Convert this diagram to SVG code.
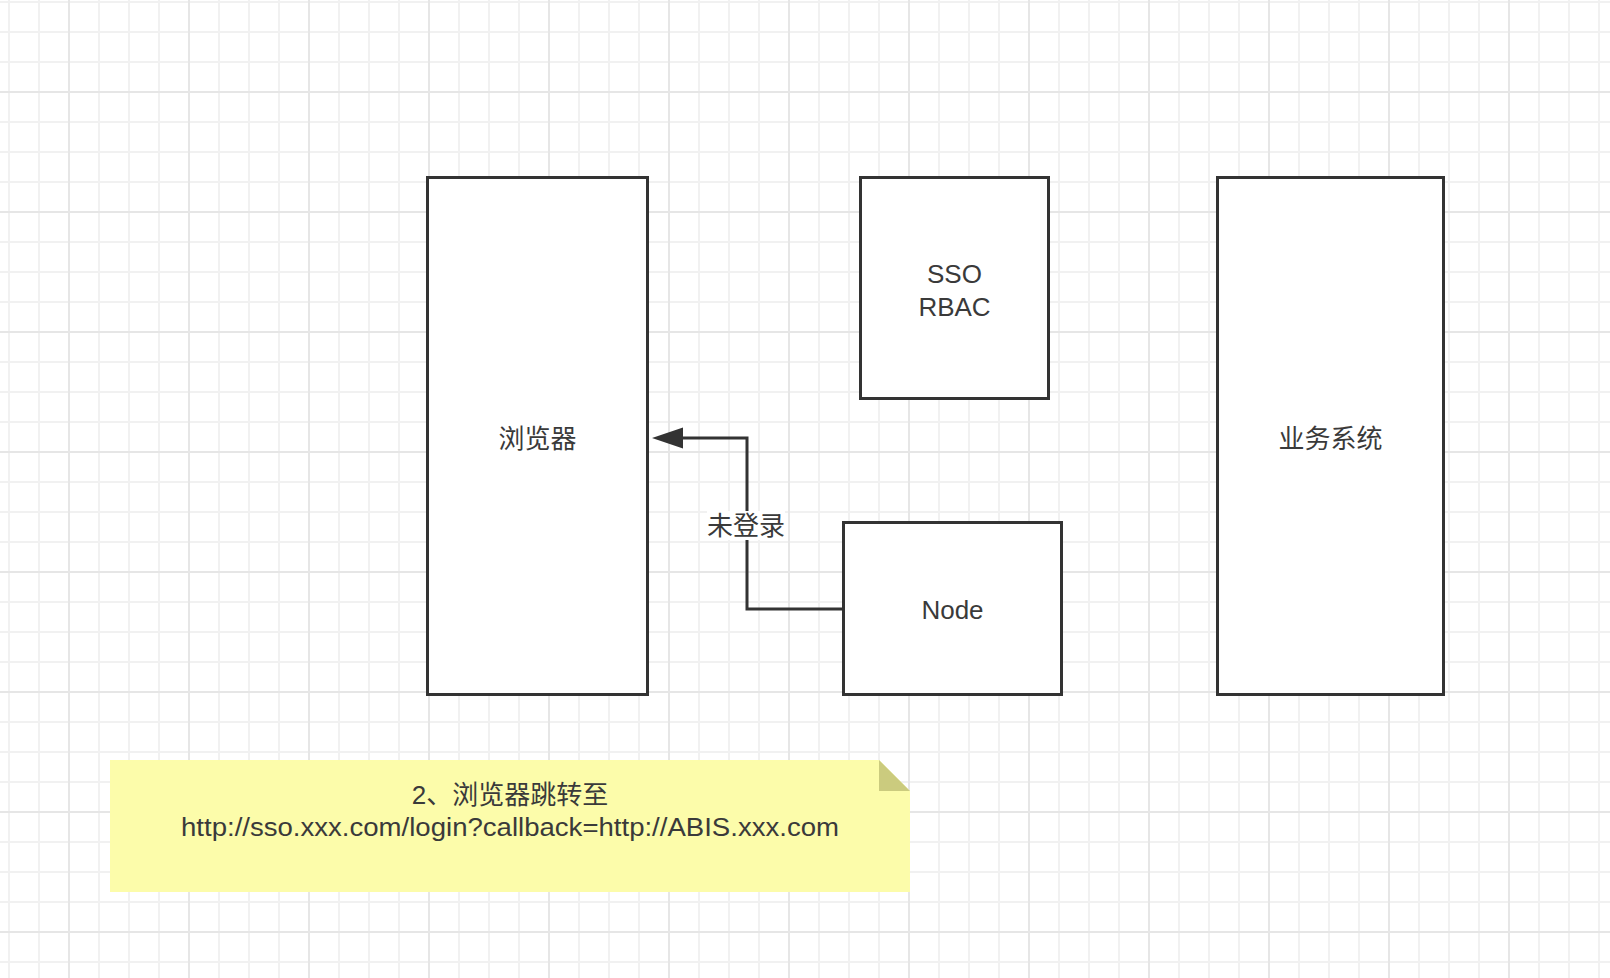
<svg xmlns="http://www.w3.org/2000/svg" width="1610" height="978" viewBox="0 0 1610 978">
<style>
.box{fill:#ffffff;stroke:#333333;stroke-width:3}
.lbl{font-family:"Liberation Sans","Noto Sans CJK SC",sans-serif;font-size:26px;fill:#3a3a3a;text-anchor:middle}
.edge{fill:none;stroke:#333333;stroke-width:3}
</style>
<defs>
<pattern id="grid" x="8" y="1" width="120" height="120" patternUnits="userSpaceOnUse">
<rect width="120" height="120" fill="#ffffff"/>
<g fill="#f1f1f1">
<rect x="0" y="0" width="2" height="120"/><rect x="30" y="0" width="2" height="120"/><rect x="60" y="0" width="2" height="120"/><rect x="90" y="0" width="2" height="120"/>
<rect x="0" y="0" width="120" height="2"/><rect x="0" y="30" width="120" height="2"/><rect x="0" y="60" width="120" height="2"/><rect x="0" y="90" width="120" height="2"/>
</g>
<g fill="#e6e6e6">
<rect x="60" y="0" width="2" height="120"/>
<rect x="0" y="90" width="120" height="2"/>
</g>
</pattern>
</defs>
<rect width="1610" height="978" fill="url(#grid)"/>

<g id="connectors">
<path class="edge" d="M843 609 H747 V438 H680"/>
<polygon points="652,438 683,427.5 683,448.5" fill="#333333"/>
<rect x="707" y="511" width="78" height="29" fill="#ffffff"/>
<text class="lbl" x="746" y="535">未登录</text>
</g>

<g id="browser">
<rect class="box" x="427.5" y="177.5" width="220" height="517"/>
<text class="lbl" x="537.5" y="448">浏览器</text>
</g>

<g id="sso">
<rect class="box" x="860.5" y="177.5" width="188" height="221"/>
<text class="lbl" x="954.5" y="283">SSO</text>
<text class="lbl" x="954.5" y="316">RBAC</text>
</g>

<g id="node">
<rect class="box" x="843.5" y="522.5" width="218" height="172"/>
<text class="lbl" x="952.5" y="619">Node</text>
</g>

<g id="business">
<rect class="box" x="1217.5" y="177.5" width="226" height="517"/>
<text class="lbl" x="1330.5" y="448">业务系统</text>
</g>

<g id="note">
<path d="M110 760 H879 L910 791 V892 H110 Z" fill="#fcfcaa"/>
<path d="M879 760 L910 791 H879 Z" fill="#cbcb7e"/>
<text class="lbl" x="510" y="804">2、浏览器跳转至</text>
<text class="lbl" x="510" y="836" textLength="658" lengthAdjust="spacingAndGlyphs">http://sso.xxx.com/login?callback=http://ABIS.xxx.com</text>
</g>
</svg>
